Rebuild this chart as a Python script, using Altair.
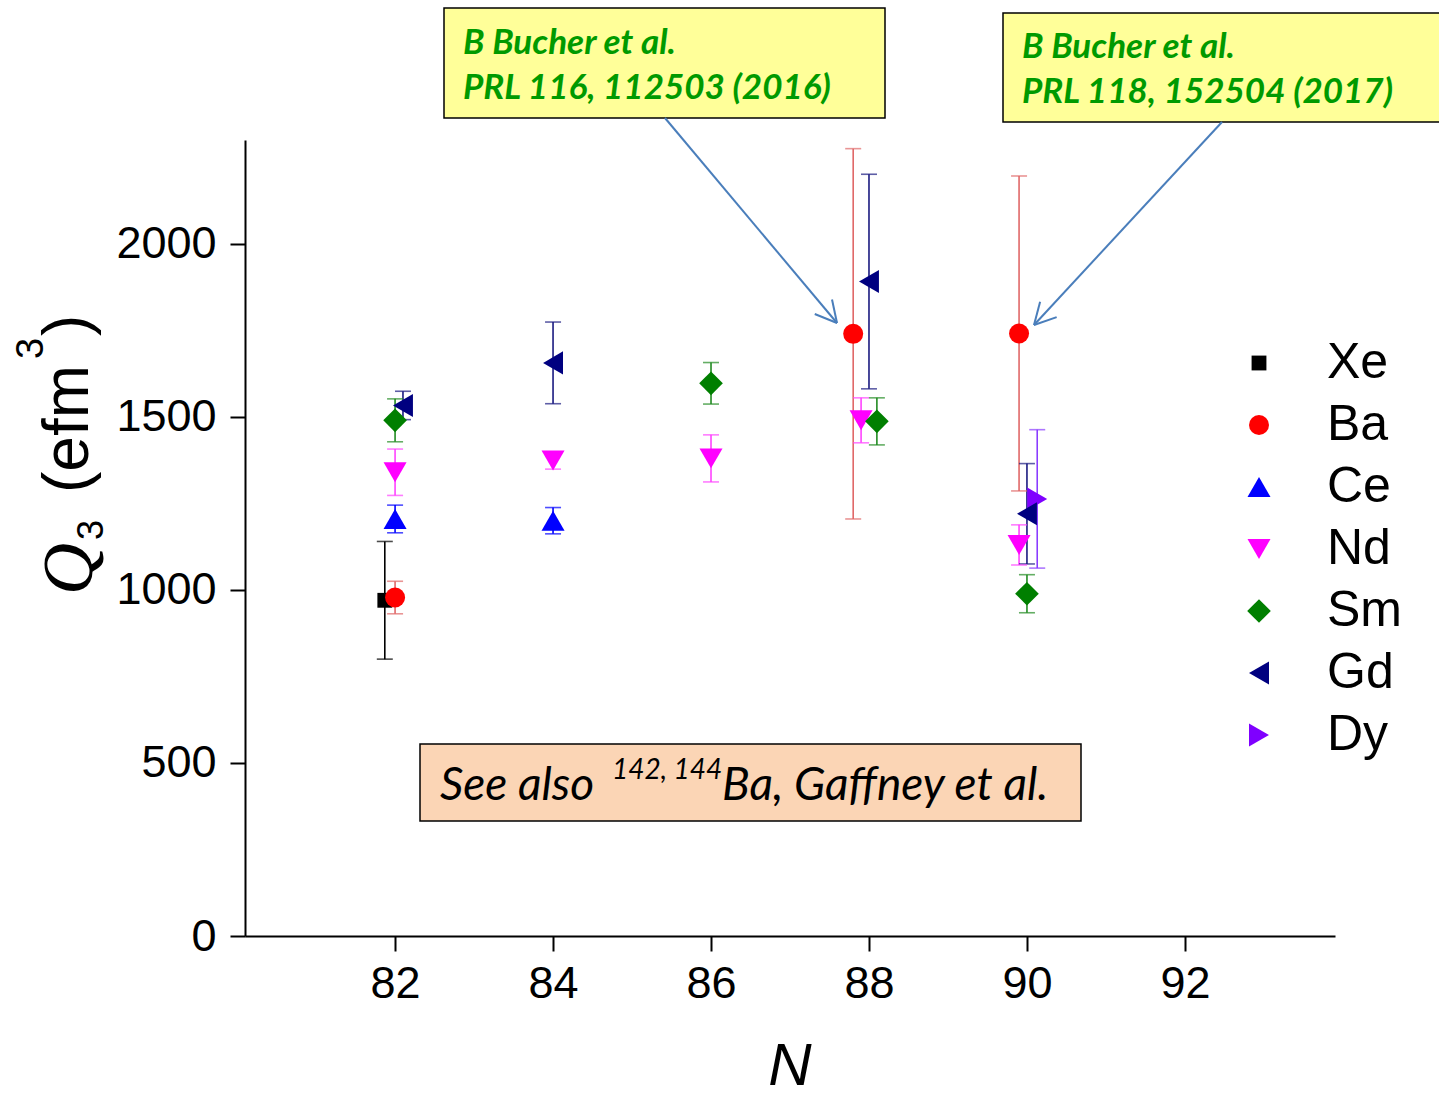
import math
import altair as alt
import pandas as pd

# ---------------- data ----------------
elements = ["Xe", "Ba", "Ce", "Nd", "Sm", "Gd",
            "Gd", "Nd", "Ce",
            "Sm", "Nd",
            "Ba", "Gd", "Nd", "Sm",
            "Ba", "Dy", "Gd", "Nd", "Sm"]
n_pos = [81.87, 82.0, 82.0, 82.0, 82.0, 82.1,
         84.0, 84.0, 84.0,
         86.0, 86.0,
         87.8, 88.0, 87.9, 88.1,
         89.9, 90.13, 90.0, 89.9, 90.0]
q3 = [970, 978, 1205, 1340, 1490, 1533,
      1656, 1374, 1200,
      1597, 1380,
      1740, 1891, 1490, 1487,
      1741, 1263, 1220, 1130, 989]
q3_err = [170, 47, 40, 67, 62, 41,
          118, 25, 38,
          60, 68,
          535, 310, 65, 68,
          455, 200, 145, 58, 55]

legend_order = ["Xe", "Ba", "Ce", "Nd", "Sm", "Gd", "Dy"]
x_ticks = [82, 84, 86, 88, 90, 92]
y_ticks = [0, 500, 1000, 1500, 2000]

# ---------------- styles ----------------
fill_colors = ["#000000", "#FF0000", "#0000FF", "#FF00FF", "#007F00", "#000080", "#7F00FF"]
err_colors = {"Xe": "#000000", "Ba": "#E06868", "Ce": "#0000FF", "Nd": "#FF44FF",
              "Sm": "#228B22", "Gd": "#1A1A80", "Dy": "#8A3CFF"}
shapes = ["square", "circle", "triangle-up", "triangle-down", "diamond",
          "triangle-left", "triangle-right"]
sizes = [220, 400, 530, 530, 560, 530, 530]

df = pd.DataFrame({"element": elements, "N": n_pos, "Q3": q3, "err": q3_err})
df["lo"] = df["Q3"] - df["err"]
df["hi"] = df["Q3"] + df["err"]
df["ecol"] = df["element"].map(err_colors)

# plot area placement
PL, PT = 245, 140
W, H = 1090, 796

xscale = alt.Scale(domain=[80.1, 93.9], nice=False, zero=False)
yscale = alt.Scale(domain=[0, 2300], nice=False, zero=False)

xaxis = alt.Axis(values=x_ticks, title=None, grid=False, labelFontSize=45,
                 labelFont="Liberation Sans", labelPadding=10, tickSize=15,
                 tickWidth=2, domainWidth=2, domainColor="black", tickColor="black",
                 labelColor="black", format="d")
yaxis = alt.Axis(values=y_ticks, title=None, grid=False, labelFontSize=45,
                 labelFont="Liberation Sans", labelPadding=14, tickSize=15,
                 tickWidth=2, domainWidth=2, domainColor="black", tickColor="black",
                 labelColor="black", format="d")

base = alt.Chart(df)

err_rule = base.mark_rule(strokeWidth=1.6).encode(
    x=alt.X("N:Q", scale=xscale, axis=xaxis),
    y=alt.Y("lo:Q", scale=yscale, axis=yaxis),
    y2="hi:Q",
    stroke=alt.Stroke("ecol:N", scale=None),
)
cap_lo = base.mark_tick(orient="horizontal", size=16, thickness=1.6).encode(
    x=alt.X("N:Q", scale=xscale),
    y=alt.Y("lo:Q", scale=yscale),
    color=alt.Color("ecol:N", scale=None),
)
cap_hi = base.mark_tick(orient="horizontal", size=16, thickness=1.6).encode(
    x=alt.X("N:Q", scale=xscale),
    y=alt.Y("hi:Q", scale=yscale),
    color=alt.Color("ecol:N", scale=None),
)

leg = alt.Legend(title=None, orient="none", legendX=989, legendY=198,
                 labelFontSize=50, labelFont="Liberation Sans", labelColor="black",
                 labelOffset=43, rowPadding=12, symbolStrokeWidth=0)

points = base.mark_point(filled=True, opacity=1, strokeWidth=0).encode(
    x=alt.X("N:Q", scale=xscale),
    y=alt.Y("Q3:Q", scale=yscale),
    fill=alt.Fill("element:N", scale=alt.Scale(domain=legend_order, range=fill_colors),
                  legend=leg),
    shape=alt.Shape("element:N", scale=alt.Scale(domain=legend_order, range=shapes),
                    legend=leg),
    size=alt.Size("element:N", scale=alt.Scale(type="ordinal", domain=legend_order,
                                                range=sizes),
                  legend=leg),
)

one = pd.DataFrame({"k": [0]})


def txt(s, x, y, size, font="Liberation Sans", style="normal", weight="normal",
        color="black", angle=0, align="left", baseline="alphabetic"):
    return alt.Chart(one).mark_text(
        text=s, font=font, fontSize=size, fontStyle=style, fontWeight=weight,
        color=color, angle=angle, align=align, baseline=baseline,
    ).encode(x=alt.value(x - PL), y=alt.value(y - PT))


def box(x0, y0, x1, y1, fill):
    return alt.Chart(one).mark_rect(fill=fill, stroke="black", strokeWidth=1.5).encode(
        x=alt.value(x0 - PL), x2=alt.value(x1 - PL),
        y=alt.value(y0 - PT), y2=alt.value(y1 - PT))


def seg(x0, y0, x1, y1, color="#4A7EBB", w=2):
    return alt.Chart(one).mark_rule(color=color, strokeWidth=w).encode(
        x=alt.value(x0 - PL), x2=alt.value(x1 - PL),
        y=alt.value(y0 - PT), y2=alt.value(y1 - PT))


def arrow(x0, y0, x1, y1, head=24, ang=28):
    dx, dy = x1 - x0, y1 - y0
    L = math.hypot(dx, dy)
    ux, uy = -dx / L, -dy / L
    out = [seg(x0, y0, x1, y1)]
    for s in (1, -1):
        a = math.radians(ang) * s
        rx = ux * math.cos(a) - uy * math.sin(a)
        ry = ux * math.sin(a) + uy * math.cos(a)
        out.append(seg(x1, y1, x1 + head * rx, y1 + head * ry))
    return out


ann = []
# yellow reference boxes
ann.append(box(444, 8, 885, 118, "#FFFF99"))
ann.append(box(1003, 13, 1460, 122, "#FFFF99"))
green = "#009A00"
bf = dict(font="Lato", style="italic", weight="bold", color=green)
ann.append(txt("B Bucher et al.", 463, 54, 35, **bf))
ann.append(txt("PRL 116, 112503 (2016)", 463, 99, 35, **bf))
ann.append(txt("B Bucher et al.", 1022, 58, 35, **bf))
ann.append(txt("PRL 118, 152504 (2017)", 1022, 103, 35, **bf))
ann += arrow(665, 118, 837, 323)
ann += arrow(1222, 122, 1034, 325)
# peach box
ann.append(box(420, 744, 1081, 821, "#FBD5B5"))
ann.append(txt("See also", 440, 800, 46, font="Lato", style="italic"))
ann.append(txt("142, 144", 612, 779, 28, font="Lato", style="italic"))
ann.append(txt("Ba, Gaffney et al.", 722, 800, 46, font="Lato", style="italic"))

# axis titles
ann.append(txt("N", 790, 1098, 60, style="italic", align="center", baseline="bottom"))
ann.append(txt("Q", 92, 595, 72, font="Liberation Serif", style="italic", angle=270))
ann.append(txt("3", 103, 540, 36, angle=270))
ann.append(txt("(efm", 88, 493, 64, angle=270))
ann.append(txt("3", 43, 359, 38, angle=270))
ann.append(txt(")", 88, 336, 64, angle=270))

chart = alt.layer(err_rule, cap_lo, cap_hi, points, *ann).properties(
    width=W, height=H,
    padding={"left": PL, "top": PT, "right": 1439 - PL - W, "bottom": 1099 - PT - H},
    autosize=alt.AutoSizeParams(type="none"),
).configure_view(stroke=None).configure_axis(labelColor="black")

chart.save("out.html", embed_options={"renderer": "svg", "actions": False})
